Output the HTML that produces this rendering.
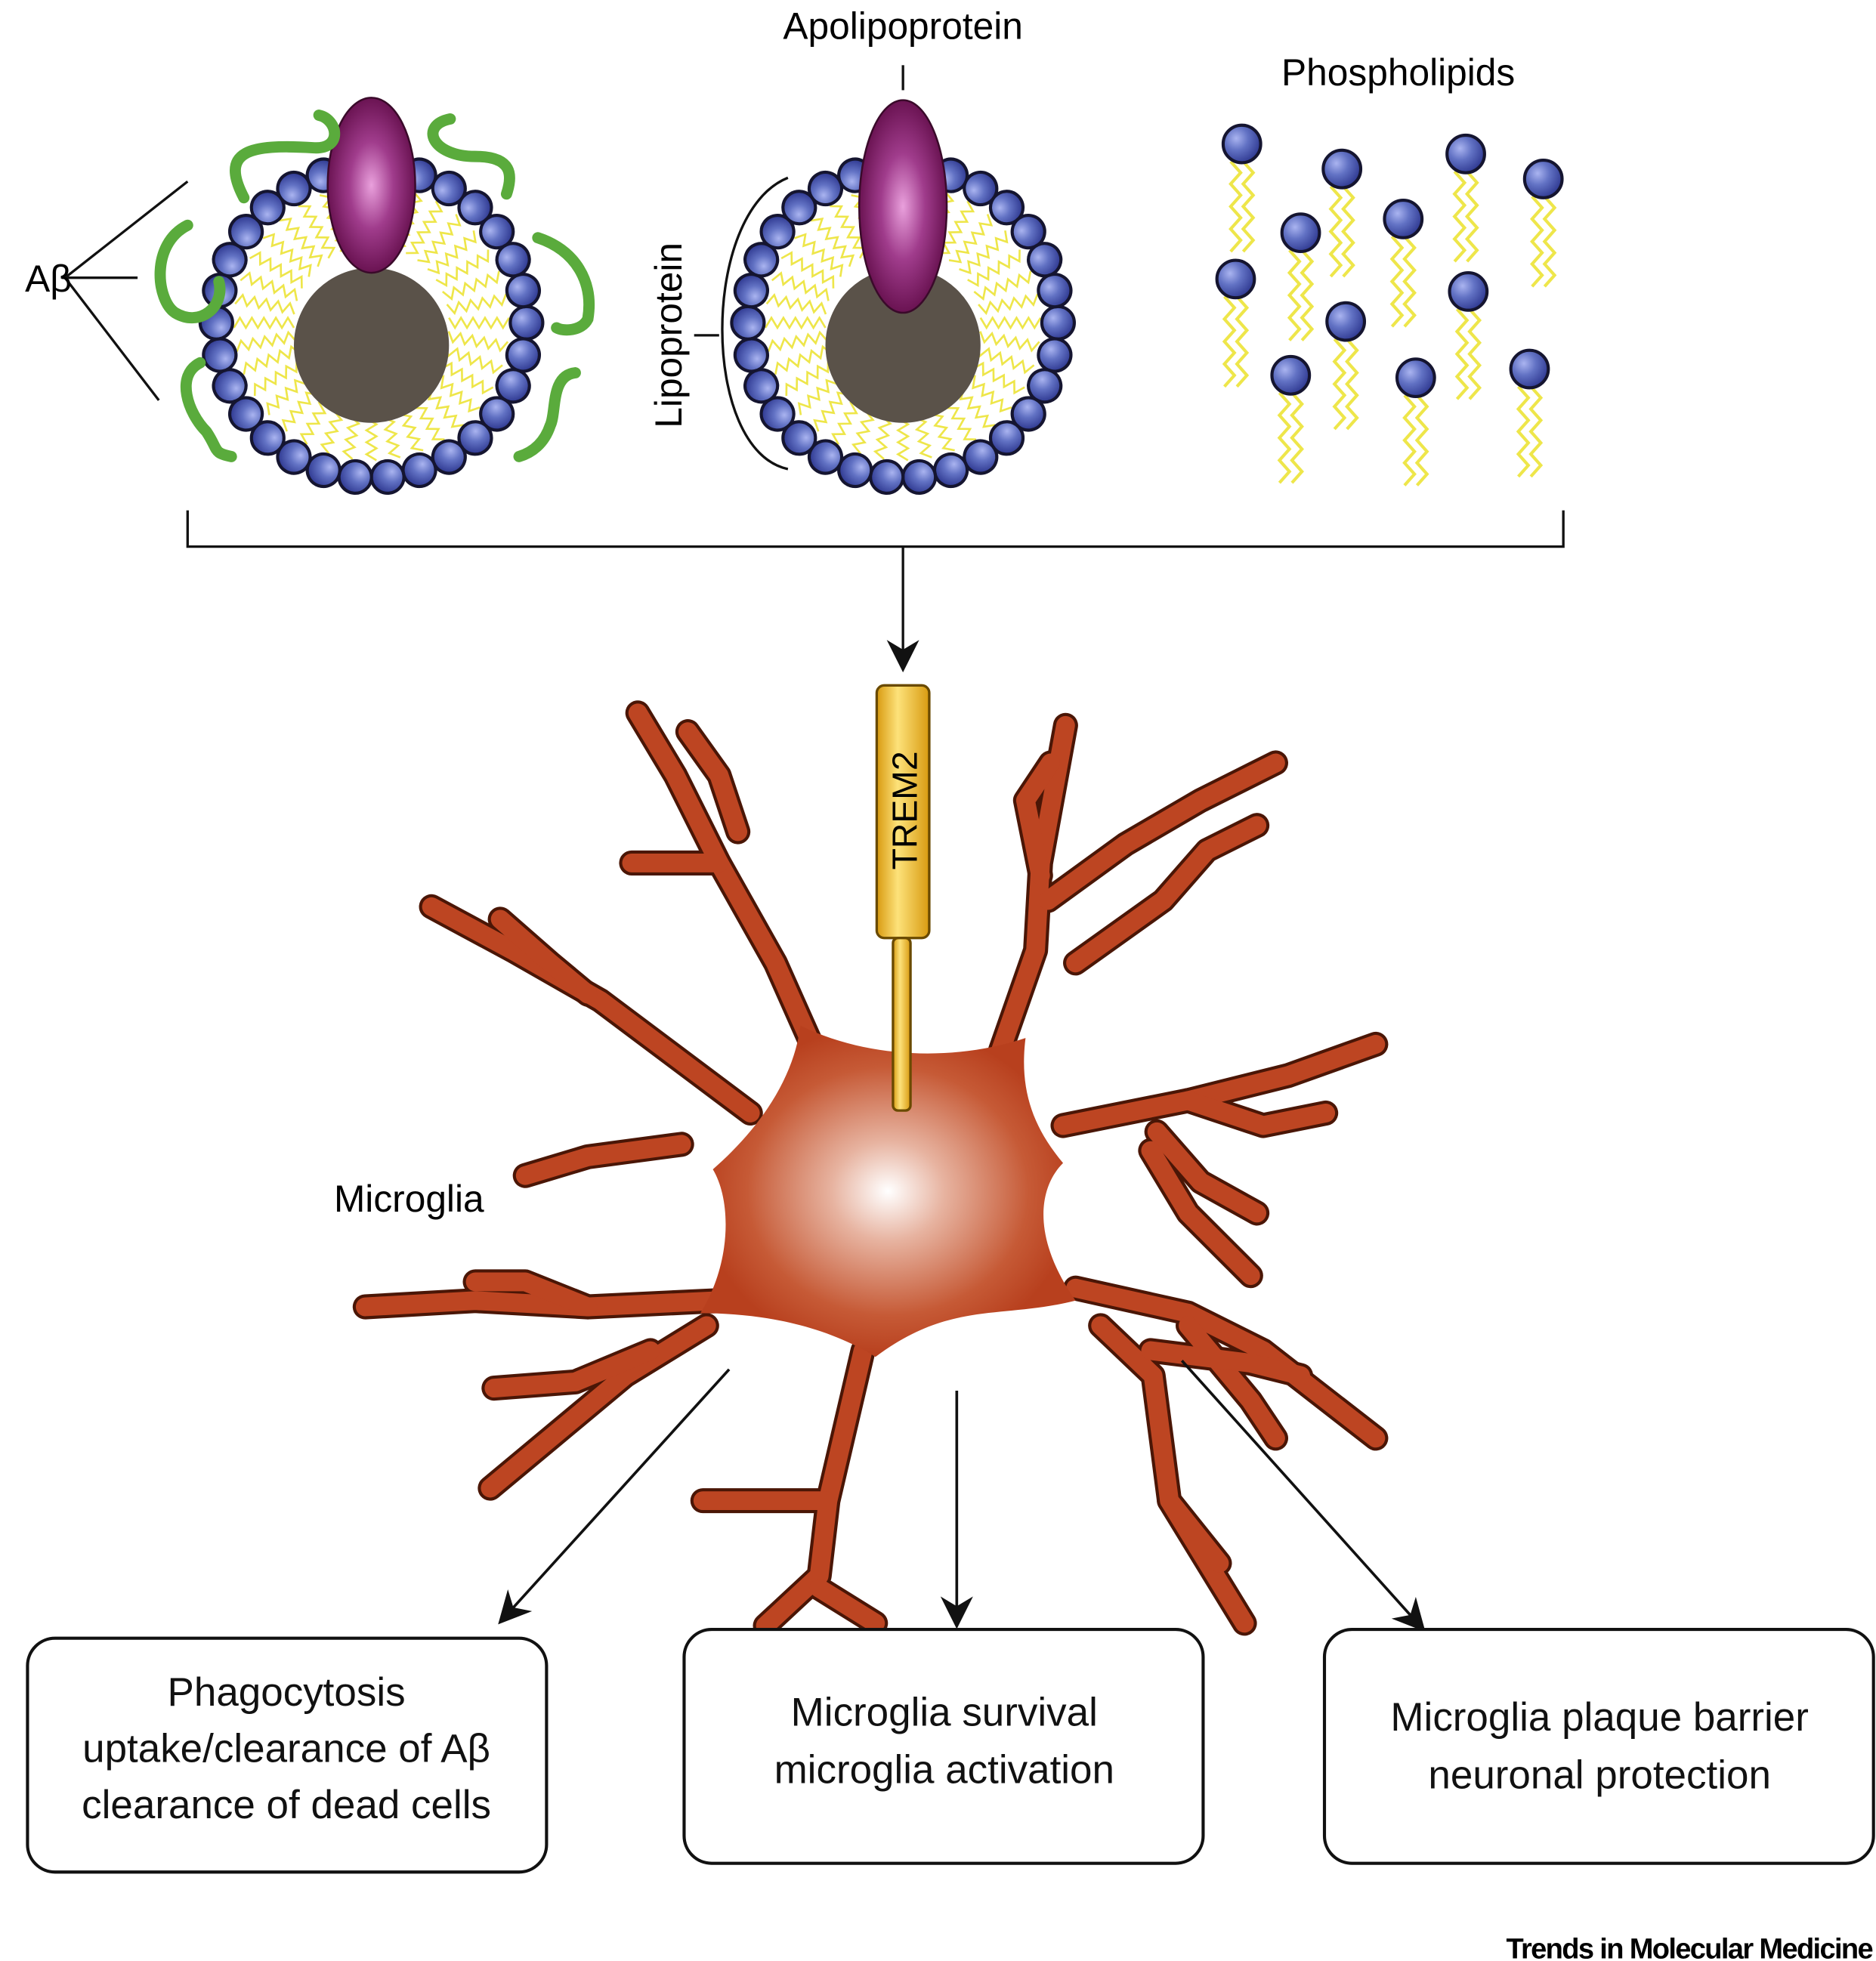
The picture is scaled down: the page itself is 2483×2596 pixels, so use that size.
<!DOCTYPE html>
<html><head><meta charset="utf-8"><style>
html,body{margin:0;padding:0;background:#fff;}
svg{display:block;}
text{font-family:"Liberation Sans","DejaVu Sans",sans-serif;}
</style></head><body>
<svg xmlns="http://www.w3.org/2000/svg" xmlns:xlink="http://www.w3.org/1999/xlink" width="2483" height="2596" viewBox="0 0 1500 1568">
<defs>
<radialGradient id="bead" cx="0.35" cy="0.35" r="0.7"><stop offset="0" stop-color="#aab4f0"/><stop offset="0.45" stop-color="#6272c4"/><stop offset="1" stop-color="#2e3890"/></radialGradient>
<radialGradient id="apo" cx="0.5" cy="0.5" r="0.5"><stop offset="0" stop-color="#e9a0dc"/><stop offset="0.5" stop-color="#a03c8c"/><stop offset="1" stop-color="#6a1352"/></radialGradient>
<radialGradient id="body" cx="0.5" cy="0.5" r="0.5"><stop offset="0" stop-color="#ffffff"/><stop offset="0.3" stop-color="#e7b3a0"/><stop offset="0.75" stop-color="#c65a36"/><stop offset="1" stop-color="#b8401e"/></radialGradient>
<linearGradient id="trem" x1="0" x2="1"><stop offset="0" stop-color="#d89a10"/><stop offset="0.4" stop-color="#fde27a"/><stop offset="1" stop-color="#d89a10"/></linearGradient>
<marker id="ar2" viewBox="0 0 10 10" refX="9" refY="5" markerWidth="26" markerHeight="26" orient="auto" markerUnits="userSpaceOnUse"><path d="M0,0 L10,5 L0,10 L3,5 Z" fill="#111"/></marker>
<polyline id="sq" points="62,-4 66.8,4 71.6,-4 76.4,4 81.2,-4 86,4 90.8,-4 95.6,4 100.4,-4 105.2,4 110,-4" fill="none" stroke="#eee64a" stroke-width="1.6"/>
<circle id="bd" cx="124" cy="0" r="13" fill="url(#bead)" stroke="#151530" stroke-width="2.5"/>
<g id="ring">
<use xlink:href="#sq" transform="rotate(0)"/><use xlink:href="#sq" transform="rotate(10)"/><use xlink:href="#sq" transform="rotate(20)"/><use xlink:href="#sq" transform="rotate(30)"/><use xlink:href="#sq" transform="rotate(40)"/><use xlink:href="#sq" transform="rotate(50)"/><use xlink:href="#sq" transform="rotate(60)"/><use xlink:href="#sq" transform="rotate(70)"/><use xlink:href="#sq" transform="rotate(80)"/><use xlink:href="#sq" transform="rotate(90)"/><use xlink:href="#sq" transform="rotate(100)"/><use xlink:href="#sq" transform="rotate(110)"/><use xlink:href="#sq" transform="rotate(120)"/><use xlink:href="#sq" transform="rotate(130)"/><use xlink:href="#sq" transform="rotate(140)"/><use xlink:href="#sq" transform="rotate(150)"/><use xlink:href="#sq" transform="rotate(160)"/><use xlink:href="#sq" transform="rotate(170)"/><use xlink:href="#sq" transform="rotate(180)"/><use xlink:href="#sq" transform="rotate(190)"/><use xlink:href="#sq" transform="rotate(200)"/><use xlink:href="#sq" transform="rotate(210)"/><use xlink:href="#sq" transform="rotate(220)"/><use xlink:href="#sq" transform="rotate(230)"/><use xlink:href="#sq" transform="rotate(240)"/><use xlink:href="#sq" transform="rotate(250)"/><use xlink:href="#sq" transform="rotate(260)"/><use xlink:href="#sq" transform="rotate(270)"/><use xlink:href="#sq" transform="rotate(280)"/><use xlink:href="#sq" transform="rotate(290)"/><use xlink:href="#sq" transform="rotate(300)"/><use xlink:href="#sq" transform="rotate(310)"/><use xlink:href="#sq" transform="rotate(320)"/><use xlink:href="#sq" transform="rotate(330)"/><use xlink:href="#sq" transform="rotate(340)"/><use xlink:href="#sq" transform="rotate(350)"/>
<circle cx="0" cy="18" r="62" fill="#5a5249"/>
<use xlink:href="#bd" transform="rotate(0)"/><use xlink:href="#bd" transform="rotate(12)"/><use xlink:href="#bd" transform="rotate(24)"/><use xlink:href="#bd" transform="rotate(36)"/><use xlink:href="#bd" transform="rotate(48)"/><use xlink:href="#bd" transform="rotate(60)"/><use xlink:href="#bd" transform="rotate(72)"/><use xlink:href="#bd" transform="rotate(84)"/><use xlink:href="#bd" transform="rotate(96)"/><use xlink:href="#bd" transform="rotate(108)"/><use xlink:href="#bd" transform="rotate(120)"/><use xlink:href="#bd" transform="rotate(132)"/><use xlink:href="#bd" transform="rotate(144)"/><use xlink:href="#bd" transform="rotate(156)"/><use xlink:href="#bd" transform="rotate(168)"/><use xlink:href="#bd" transform="rotate(180)"/><use xlink:href="#bd" transform="rotate(192)"/><use xlink:href="#bd" transform="rotate(204)"/><use xlink:href="#bd" transform="rotate(216)"/><use xlink:href="#bd" transform="rotate(228)"/><use xlink:href="#bd" transform="rotate(240)"/><use xlink:href="#bd" transform="rotate(252)"/><use xlink:href="#bd" transform="rotate(264)"/><use xlink:href="#bd" transform="rotate(276)"/><use xlink:href="#bd" transform="rotate(288)"/><use xlink:href="#bd" transform="rotate(300)"/><use xlink:href="#bd" transform="rotate(312)"/><use xlink:href="#bd" transform="rotate(324)"/><use xlink:href="#bd" transform="rotate(336)"/><use xlink:href="#bd" transform="rotate(348)"/>
</g>
<g id="ph">
<polyline points="-9,14 -1,23 -9,32 -1,41 -9,50 -1,59 -9,68 -1,77 -9,86" fill="none" stroke="#eee64a" stroke-width="2.5"/>
<polyline points="1,14 9,23 1,32 9,41 1,50 9,59 1,68 9,77 1,86" fill="none" stroke="#eee64a" stroke-width="2.5"/>
<circle cx="0" cy="0" r="15" fill="url(#bead)" stroke="#151530" stroke-width="2.5"/>
</g>
<g id="brs">
<path d="M660,860 L620,770 L575,690 L540,620 L510,570"/><path d="M575,690 L530,690 L505,690"/><path d="M590,665 L575,620 L550,585"/>
<path d="M800,840 L828,760 L832,690 L852,580"/><path d="M838,720 L900,675 L960,640 L1020,610"/><path d="M860,770 L930,720 L965,680 L1005,660"/><path d="M832,700 L820,640 L840,610"/>
<path d="M600,890 L480,800 L410,760 L345,725"/><path d="M470,795 L440,770 L400,735"/><path d="M545,915 L470,925 L420,940"/>
<path d="M850,900 L950,880 L1030,860 L1100,835"/><path d="M925,905 L960,945 L1005,970"/><path d="M950,880 L1010,900 L1060,890"/><path d="M920,920 L950,970 L1000,1020"/>
<path d="M860,1030 L950,1050 L1010,1080 L1100,1150"/><path d="M950,1060 L1000,1120 L1020,1150"/>
<path d="M575,1040 L470,1045 L380,1040 L292,1045"/><path d="M470,1045 L420,1025 L380,1025"/><path d="M565,1060 L500,1100 L440,1150 L392,1190"/><path d="M520,1080 L460,1105 L395,1110"/>
<path d="M690,1080 L662,1200 L655,1260 L612,1300"/><path d="M660,1200 L600,1200 L562,1200"/><path d="M655,1270 L700,1298"/>
<path d="M880,1060 L922,1100 L935,1200 L995,1298"/><path d="M935,1200 L975,1250"/><path d="M920,1080 L1000,1090 L1040,1100"/>
</g>
</defs>
<use xlink:href="#ring" transform="translate(297,258)"/>
<ellipse cx="297" cy="148" rx="35" ry="70" fill="url(#apo)" stroke="#3a0a2a" stroke-width="1.5"/>
<use xlink:href="#ring" transform="translate(722,258)"/>
<ellipse cx="722" cy="165" rx="35" ry="85" fill="url(#apo)" stroke="#3a0a2a" stroke-width="1.5"/>
<g fill="none" stroke="#5aab3c" stroke-width="9" stroke-linecap="round">
<path d="M195,158 C175,120 200,115 250,118 C275,120 270,95 255,92"/>
<path d="M360,95 C335,100 345,125 380,125 C410,125 410,140 405,155"/>
<path d="M150,180 C120,195 125,240 140,250 C160,262 180,245 175,225"/>
<path d="M430,190 C460,200 475,225 470,255 C465,265 450,265 445,262"/>
<path d="M160,290 C140,300 150,330 165,345 C175,360 170,362 185,365"/>
<path d="M460,298 C440,300 445,330 440,340 C435,355 425,362 415,365"/>
</g>
<g stroke="#111" stroke-width="2" fill="none">
<path d="M150,145 L52,222 L110,222 M52,222 L127,320"/>
<path d="M722,52 L722,72"/>
<path d="M630,142 C560,170 560,360 630,375 M575,268 L555,268"/>
<path d="M150,408 L150,437 L1250,437 L1250,408"/>
<path d="M722,437 L722,535" marker-end="url(#ar2)"/>
</g>
<text x="20" y="233" font-size="30">Aβ</text>
<text x="722" y="31" font-size="30" text-anchor="middle">Apolipoprotein</text>
<text x="1118" y="68" font-size="30" text-anchor="middle">Phospholipids</text>
<text transform="translate(545,268) rotate(-90)" font-size="30" text-anchor="middle">Lipoprotein</text>
<use xlink:href="#ph" transform="translate(993,115)"/><use xlink:href="#ph" transform="translate(1073,135)"/><use xlink:href="#ph" transform="translate(1172,123)"/><use xlink:href="#ph" transform="translate(1234,143)"/><use xlink:href="#ph" transform="translate(1040,186)"/><use xlink:href="#ph" transform="translate(1122,175)"/><use xlink:href="#ph" transform="translate(988,223)"/><use xlink:href="#ph" transform="translate(1174,233)"/><use xlink:href="#ph" transform="translate(1076,257)"/><use xlink:href="#ph" transform="translate(1032,300)"/><use xlink:href="#ph" transform="translate(1132,302)"/><use xlink:href="#ph" transform="translate(1223,295)"/>
<use xlink:href="#brs" fill="none" stroke="#4a1606" stroke-width="20" stroke-linecap="round" stroke-linejoin="round"/>
<use xlink:href="#brs" fill="none" stroke="#bd4522" stroke-width="15" stroke-linecap="round" stroke-linejoin="round"/>
<path d="M640,820 C690,845 760,850 820,830 C815,870 825,900 850,930 C830,950 825,990 860,1040 C800,1055 760,1040 700,1085 C660,1060 610,1050 560,1050 C585,1010 585,960 570,935 C610,900 635,860 640,820 Z" fill="url(#body)"/>
<rect x="701" y="548" width="42" height="202" rx="6" fill="url(#trem)" stroke="#6a4a00" stroke-width="2"/>
<rect x="714" y="750" width="14" height="138" rx="4" fill="url(#trem)" stroke="#6a4a00" stroke-width="2"/>
<text transform="translate(733,648) rotate(-90)" font-size="28" text-anchor="middle">TREM2</text>
<text x="327" y="969" font-size="30" text-anchor="middle">Microglia</text>
<g stroke="#111" stroke-width="2.2" fill="none">
<path d="M583,1095 L400,1297" marker-end="url(#ar2)"/>
<path d="M765,1112 L765,1300" marker-end="url(#ar2)"/>
<path d="M945,1088 L1138,1303" marker-end="url(#ar2)"/>
</g>
<g fill="#fff" stroke="#111" stroke-width="2.5">
<rect x="22" y="1310" width="415" height="187" rx="22"/>
<rect x="547" y="1303" width="415" height="187" rx="22"/>
<rect x="1059" y="1303" width="439" height="187" rx="22"/>
</g>
<g font-size="32" text-anchor="middle" fill="#111">
<text x="229" y="1364">Phagocytosis</text>
<text x="229" y="1409">uptake/clearance of Aβ</text>
<text x="229" y="1454">clearance of dead cells</text>
<text x="755" y="1380">Microglia survival</text>
<text x="755" y="1426">microglia activation</text>
<text x="1279" y="1384">Microglia plaque barrier</text>
<text x="1279" y="1430">neuronal protection</text>
</g>
<text x="1497" y="1566" font-size="23" font-weight="bold" text-anchor="end" letter-spacing="-1">Trends in Molecular Medicine</text>
</svg>
</body></html>
